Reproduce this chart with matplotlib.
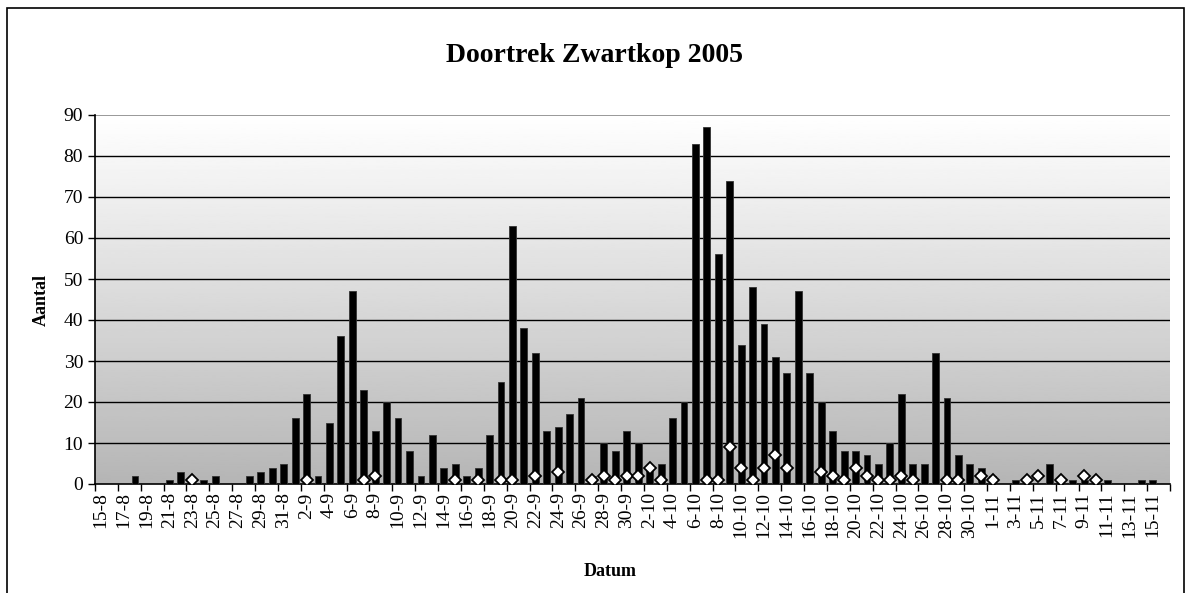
import numpy as np
import matplotlib
matplotlib.use('Agg')
import matplotlib.pyplot as plt
from matplotlib.patches import Rectangle

plt.rcParams['font.family'] = ['Liberation Serif', 'DejaVu Serif']

# one category per day, 15-8 .. 16-11
datums = (['%d-8' % d for d in range(15, 32)] +
          ['%d-9' % d for d in range(1, 31)] +
          ['%d-10' % d for d in range(1, 32)] +
          ['%d-11' % d for d in range(1, 17)])

aantal = [0, 0, 0, 2, 0, 0, 1, 3, 0, 1, 2, 0, 0, 2, 3, 4, 5,          # aug
          16, 22, 2, 15, 36, 47, 23, 13, 20, 16, 8, 2, 12, 4, 5, 2, 4,
          12, 25, 63, 38, 32, 13, 14, 17, 21, 2, 10, 8, 13,           # sep
          10, 4, 5, 16, 20, 83, 87, 56, 74, 34, 48, 39, 31, 27, 47, 27,
          20, 13, 8, 8, 7, 5, 10, 22, 5, 5, 32, 21, 7, 5, 4,           # okt
          2, 0, 1, 0, 0, 5, 0, 1, 1, 0, 1, 0, 0, 1, 1, 0]              # nov

N = None
tweede = [N, N, N, N, N, N, N, N, 1, N, N, N, N, N, N, N, N,
          N, 1, N, N, N, N, 1, 2, N, N, N, N, N, N, 1, N, 1,
          N, 1, 1, N, 2, N, 3, N, N, 1, 2, 1, 2,
          2, 4, 1, N, N, N, 1, 1, 9, 4, 1, 4, 7, 4, N, N,
          3, 2, 1, 4, 2, 1, 1, 2, 1, N, N, 1, 1, N, 2,
          1, N, N, 1, 2, N, 1, N, 2, 1, N, N, N, N, N, N]

x = np.arange(len(datums))
y2 = np.array([np.nan if v is None else v for v in tweede], dtype=float)

fig = plt.figure(figsize=(11.91, 5.93), dpi=100)
ax = fig.add_axes([95 / 1191, 1 - 484 / 593, 1075 / 1191, 369 / 593])

# grey gradient background
grad = np.linspace(0.71, 1.0, 256).reshape(-1, 1)
ax.imshow(grad, extent=[0, 1, 0, 1], transform=ax.transAxes, aspect='auto',
          cmap='gray', vmin=0, vmax=1, origin='lower', zorder=0)

ax.bar(x, aantal, width=0.6, color='black', edgecolor='#333333', linewidth=0.6, zorder=3)
ax.plot(x, y2, linestyle='none', marker='D', markersize=6.5,
        markerfacecolor='white', markeredgecolor='black', markeredgewidth=1.3, zorder=4)

ax.set_xlim(-0.5, len(datums) - 0.5)
ax.set_ylim(0, 90)
ax.set_yticks(range(0, 91, 10))
for v in range(10, 90, 10):
    ax.axhline(v, color='black', linewidth=1, zorder=1)
ax.axhline(90, color='#888888', linewidth=1.2, zorder=1)

ax.set_xticks(x[::2])
ax.set_xticklabels(datums[::2], rotation=90, fontsize=14)
ax.set_xticks(np.arange(-0.5, len(datums), 2), minor=True)
ax.tick_params(axis='x', which='major', length=0, pad=6)
ax.tick_params(axis='x', which='minor', length=5, width=1, direction='out')
ax.tick_params(axis='y', labelsize=14, length=5, width=1, direction='out')

for s in ['top', 'right']:
    ax.spines[s].set_visible(False)
ax.spines['left'].set_linewidth(1.2)
ax.spines['bottom'].set_linewidth(1.2)

ax.set_ylabel('Aantal', fontsize=13, fontweight='bold', labelpad=10)
fig.text(610 / 1191, 1 - 571 / 593, 'Datum', ha='center', va='center',
         fontsize=13, fontweight='bold')
fig.text(595 / 1191, 1 - 55 / 593, 'Doortrek Zwartkop 2005', ha='center', va='center',
         fontsize=20, fontweight='bold')

fig.patches.append(Rectangle((7 / 1191, -0.02), 1177 / 1191, 1.02 - 8 / 593,
                             transform=fig.transFigure, fill=False,
                             edgecolor='black', linewidth=1.2))

fig.savefig('out.png', dpi=100)
